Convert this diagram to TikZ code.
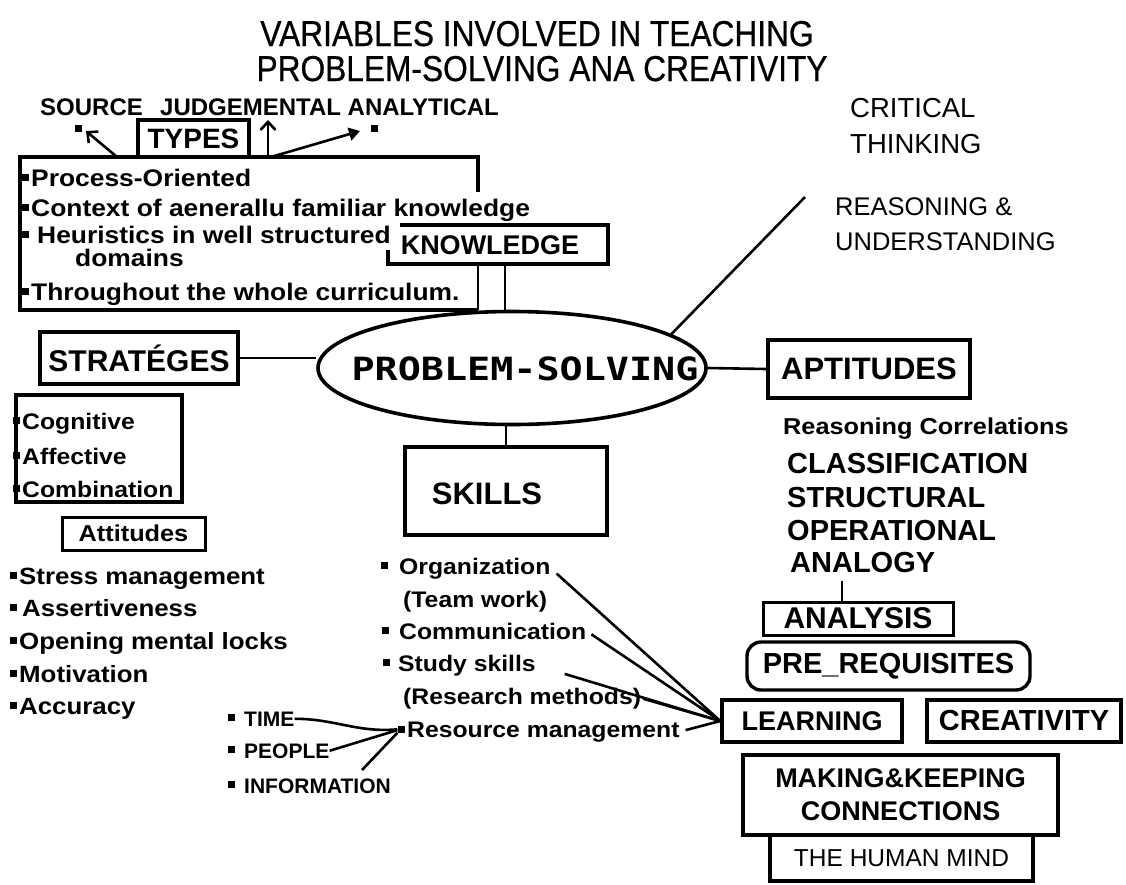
\documentclass[tikz,border=0pt]{standalone}
\usepackage{fontspec}
\setmainfont{Liberation Sans}
\newfontfamily\chif[FakeStretch=1.1]{Liberation Sans}
\newfontfamily\ttlf[FakeStretch=0.88,FakeBold=0.6]{Liberation Sans}
\newfontfamily\monof[FakeStretch=1.2]{DejaVu Sans Mono}
\usetikzlibrary{shapes.geometric,arrows.meta,calc}
\newcommand\fs[1]{\fontsize{#1}{#1}\selectfont}
\newcommand\blt{\rule[5pt]{7pt}{7pt}\hspace{2pt}}
\tikzset{
  lw/.style={line width=3.4pt},
  con/.style={line width=2.6pt},
  bx/.style={draw, line width=3.4pt, inner sep=0pt},
  ttl/.style={anchor=base, inner sep=0pt, font=\ttlf\fs{36}},
  tb/.style={anchor=base west, inner sep=0pt, font=\chif\bfseries\fs{24}},
  tr/.style={anchor=base west, inner sep=0pt, font=\fs{26}},
  capb/.style={anchor=base west, inner sep=0pt, font=\bfseries\fs{29}},
  sk/.style={anchor=base west, inner sep=0pt, font=\chif\bfseries\fs{22.5}},
  sm/.style={anchor=base west, inner sep=0pt, font=\bfseries\fs{21}},
  sq/.style={fill, minimum width=7pt, minimum height=7pt, inner sep=0pt},
}
\begin{document}
\begin{tikzpicture}[x=1pt,y=-1pt]
\useasboundingbox (0,0) rectangle (1126,884);

% title
\node[ttl] (t1) at (537,46) {VARIABLES INVOLVED IN TEACHING};
\node[ttl] (t2) at (542,81) {PROBLEM-SOLVING ANA CREATIVITY};

% types
\node[tb, font=\bfseries\fs{24}] (src) at (40,115) {SOURCE};
\node[tb, font=\bfseries\fs{24}] (jud) at (160,115) {JUDGEMENTAL ANALYTICAL};
\node[bx, minimum width=111pt, minimum height=37pt, font=\bfseries\fs{28}] (types) at (193.5,138.5) {TYPES};
\node[sq] (bs) at (78,128) {};
\node[sq] (ba) at (374,128) {};
\coordinate (ca) at (117,157); \coordinate (cat) at (86,131);
\coordinate (cj) at (268,157); \coordinate (cjt) at (268,120);
\coordinate (cn) at (271,157); \coordinate (cnt) at (360,131);
\draw[con,-{Straight Barb[length=8pt,width=15pt]}] (ca) -- (cat);
\draw[con,-{Straight Barb[length=8pt,width=15pt]}] (cj) -- (cjt);
\draw[con,-{Triangle[length=11pt,width=13pt]}] (cn) -- (cnt);

% big box
\draw[lw] (478,192) -- (478,157) -- (20,157) -- (20,310) -- (478,310);
\node[tb] (p1) at (22,186) {\blt Process-Oriented};
\node[tb] (p2) at (22,216) {\blt Context of aenerallu familiar knowledge};
\node[tb] (p3) at (22,243) {\blt\hspace{6pt}Heuristics in well structured};
\node[tb] (p4) at (75,266) {domains};
\node[tb] (p5) at (22,300) {\blt Throughout the whole curriculum.};

% knowledge
\node[inner sep=0pt, font=\bfseries\fs{27}] (know) at (490,245) {KNOWLEDGE};
\draw[lw] (400,225) -- (608,225) -- (608,264) -- (388,264) -- (388,250);

% problem solving
\node[ellipse, draw, line width=3.6pt, minimum width=388pt, minimum height=113pt, inner sep=0pt] (ps) at (512,368) {};
\node[inner sep=0pt, font=\monof\bfseries\fs{32}] (pst) at (525,369) {PROBLEM-SOLVING};

\coordinate (k1) at (478,264); \coordinate (k1b) at (478,310);
\coordinate (k2) at (505,264);
\draw[con] (k1) -- (k1b);
\draw[con] (k2) -- (k2 |- ps.north);

% critical thinking
\node[tr, font=\fs{27.5}] (crit) at (850,117) {CRITICAL};
\node[tr, font=\fs{27.5}] (thnk) at (850,153) {THINKING};
\node[tr, font=\fs{25.5}] (reas) at (835,215) {REASONING \&};
\node[tr, font=\fs{25.5}] (und) at (835,250) {UNDERSTANDING};
\coordinate (rsn) at (805,197);
\draw[con] (ps.12) -- (rsn);

% strategies
\node[bx, minimum width=198pt, minimum height=52pt, font=\bfseries\fs{30}] (str) at (139,358) {STRATÉGES};
\draw[con] (str.east) -- (str.east -| ps.west);
\node[draw, lw, minimum width=166pt, minimum height=107pt, inner sep=0pt] (cog) at (99,448.5) {};
\node[tb, font=\chif\bfseries\fs{22.5}] (c1) at (13,429) {\blt Cognitive};
\node[tb, font=\chif\bfseries\fs{22.5}] (c2) at (13,464) {\blt Affective};
\node[tb, font=\chif\bfseries\fs{22.5}] (c3) at (13,497) {\blt Combination};

\node[draw, line width=3pt, minimum width=143pt, minimum height=33pt, inner sep=0pt, font=\chif\bfseries\fs{23}] (att) at (133.5,533.5) {Attitudes};
\node[tb, font=\chif\bfseries\fs{23.5}] (a1) at (10,584) {\blt Stress management};
\node[tb, font=\chif\bfseries\fs{23.5}] (a2) at (10,616) {\blt\hspace{3pt}Assertiveness};
\node[tb, font=\chif\bfseries\fs{23.5}] (a3) at (10,649) {\blt Opening mental locks};
\node[tb, font=\chif\bfseries\fs{23.5}] (a4) at (10,682) {\blt Motivation};
\node[tb, font=\chif\bfseries\fs{23.5}] (a5) at (10,714) {\blt Accuracy};

% aptitudes
\node[bx, minimum width=202pt, minimum height=58pt, font=\bfseries\fs{31}] (apt) at (869,369) {APTITUDES};
\draw[con] (ps.east) -- (apt.west);
\node[tb, font=\chif\bfseries\fs{23}] (rc) at (783,434) {Reasoning Correlations};
\node[capb] (cl) at (787,473) {CLASSIFICATION};
\node[capb] (st) at (787,507) {STRUCTURAL};
\node[capb] (op) at (787,540) {OPERATIONAL};
\node[capb] (an) at (790,572) {ANALOGY};
\node[draw, line width=3pt, minimum width=190pt, minimum height=33pt, inner sep=0pt, font=\bfseries\fs{30}] (anl) at (858,618.5) {ANALYSIS};
\coordinate (ag) at (842,581);
\draw[con] (ag) -- (ag |- anl.north);
\node[draw, line width=3.4pt, rounded corners=14pt, minimum width=283pt, minimum height=48pt, inner sep=0pt, font=\bfseries\fs{29}] (pre) at (888.5,666) {PRE\_REQUISITES};

\node[bx, minimum width=180pt, minimum height=42pt, font=\bfseries\fs{27}] (lrn) at (812,721) {LEARNING\hspace{20pt}};
\node[bx, minimum width=194pt, minimum height=42pt, font=\bfseries\fs{29}] (cre) at (1024,721) {CREATIVITY};
\node[bx, minimum width=315pt, minimum height=80pt, align=center, font=\bfseries\fontsize{27}{33}\selectfont] (mk) at (900.5,795) {MAKING\&KEEPING\\CONNECTIONS};
\node[bx, minimum width=263pt, minimum height=46pt, font=\fs{24.5}] (hm) at (901.5,858) {THE HUMAN MIND};

% skills
\node[bx, minimum width=202pt, minimum height=88pt] (skills) at (506,491) {};
\node[inner sep=0pt, font=\bfseries\fs{31}] (skt) at (487,494) {SKILLS};
\draw[con] (skills.north) -- (skills.north |- ps.south);

\node[sk] (o1) at (381,574) {\blt\hspace{9pt}Organization};
\node[sk] (o2) at (403,607) {(Team work)};
\node[sk] (o3) at (382,639) {\blt\hspace{8pt}Communication};
\node[sk] (o4) at (383,671) {\blt\hspace{6pt}Study skills};
\node[sk] (o5) at (403,704) {(Research methods)};
\node[sq] (rb) at (401,729) {};
\node[sk] (o6) at (407,737) {Resource management};

\draw[con, shorten <=8pt] (o1.east) -- (lrn.west);
\draw[con, shorten <=6pt] (o3.east) -- (lrn.west);
\draw[con, shorten <=30pt] (o4.east) -- (lrn.west);
\draw[con, shorten <=2pt] (o5.east) -- (lrn.west);
\draw[con, shorten <=6pt] (o6.east) -- (lrn.west);

\node[sm] (tm) at (228,726) {\blt\hspace{7pt}TIME};
\node[sm] (pp) at (228,758) {\blt\hspace{7pt}PEOPLE};
\node[sm] (inf) at (228,793) {\blt\hspace{7pt}INFORMATION};
\draw[con] (tm.east) to[out=0,in=185] (rb);
\draw[con] (pp.east) -- (rb);
\coordinate (ic) at (362,770);
\draw[con] (ic) -- (rb);
\end{tikzpicture}
\end{document}
